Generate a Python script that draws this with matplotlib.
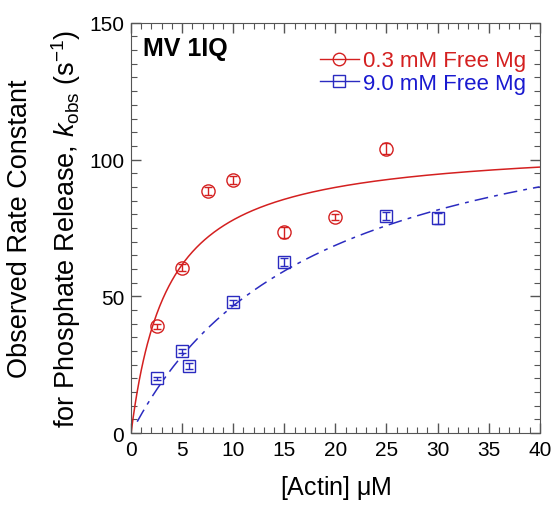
import matplotlib
matplotlib.use("Agg")
import matplotlib.pyplot as plt
from matplotlib.lines import Line2D
import numpy as np

plt.rcParams['font.family'] = ['Liberation Sans', 'DejaVu Sans']
plt.rcParams['mathtext.fontset'] = 'custom'
plt.rcParams['mathtext.rm'] = 'Liberation Sans'
plt.rcParams['mathtext.it'] = 'Liberation Sans:italic'

# 0.3 mM free Mg
low_x = [2.5, 5, 7.5, 10, 15, 20, 25]
low_y = [39, 60.5, 88.5, 92.5, 73.5, 79, 104]
low_err = [1.0, 1.2, 1.5, 1.5, 2.0, 1.2, 2.0]
low_vmax = 106.0
low_k = 3.6

# 9.0 mM free Mg
high_x = [2.5, 5, 5.7, 10, 15, 25, 30]
high_y = [20, 30, 24.5, 47.8, 62.5, 79.5, 78.5]
high_err = [0.5, 0.8, 1.0, 1.0, 1.5, 1.5, 2.0]
high_vmax = 130.8
high_k = 18.1

red = '#d42020'
blue = '#2b2bc0'

fig = plt.figure(figsize=(5.53, 5.06), dpi=100)
ax = fig.add_axes([0.237, 0.142, 0.739, 0.811])

# hyperbolic fits
xf = np.linspace(0, 40, 400)
ax.plot(xf, low_vmax * xf / (low_k + xf), color=red, lw=1.1)
xb = np.linspace(0.6, 40, 400)
ax.plot(xb, high_vmax * xb / (high_k + xb), color=blue, lw=1.1,
        linestyle=(0, (9, 4, 2.5, 4)))

ax.errorbar(low_x, low_y, yerr=low_err, fmt='o', ms=9.5, mfc='none',
            mec=red, mew=1.0, ecolor=red, elinewidth=1.0, capsize=3, color=red)
ax.errorbar(high_x, high_y, yerr=high_err, fmt='s', ms=9, mfc='none',
            mec=blue, mew=1.0, ecolor=blue, elinewidth=1.0, capsize=3, color=blue)

ax.set_xlim(0, 40)
ax.set_ylim(0, 150)
ax.set_xticks(range(0, 41, 5))
ax.set_yticks([0, 50, 100, 150])
ax.set_xticks(range(0, 41), minor=True)
ax.set_yticks(range(0, 151, 5), minor=True)
ax.tick_params(which='both', direction='in', top=True, right=True,
               labelsize=15, color='#555555', pad=5)
ax.tick_params(which='major', length=7, width=1)
ax.tick_params(which='minor', length=4, width=0.8)
for s in ax.spines.values():
    s.set_color('#555555')

ax.set_xlabel(r'[Actin] $\mathrm{\mu}$M', fontsize=18, labelpad=10)
ax.set_ylabel('Observed Rate Constant\n'
              r'for Phosphate Release, $k_{\mathrm{obs}}$ (s$^{-1}$)',
              fontsize=19.5, labelpad=4, linespacing=1.65)

ax.text(0.03, 0.968, 'MV 1IQ', transform=ax.transAxes, fontsize=18,
        fontweight='bold', va='top', ha='left')

handles = [Line2D([], [], color=red, marker='o', ms=9, mfc='none', lw=1.0),
           Line2D([], [], color=blue, marker='s', ms=8.5, mfc='none', lw=1.0)]
leg = ax.legend(handles, ['0.3 mM Free Mg', '9.0 mM Free Mg'], loc='upper right',
                bbox_to_anchor=(1.0, 0.965), frameon=False, fontsize=16,
                handlelength=1.75, handletextpad=0.2, borderaxespad=0.2,
                labelspacing=0.05)
for t, c in zip(leg.get_texts(), [red, '#1a1ad0']):
    t.set_color(c)

fig.savefig('out.png', dpi=100)
